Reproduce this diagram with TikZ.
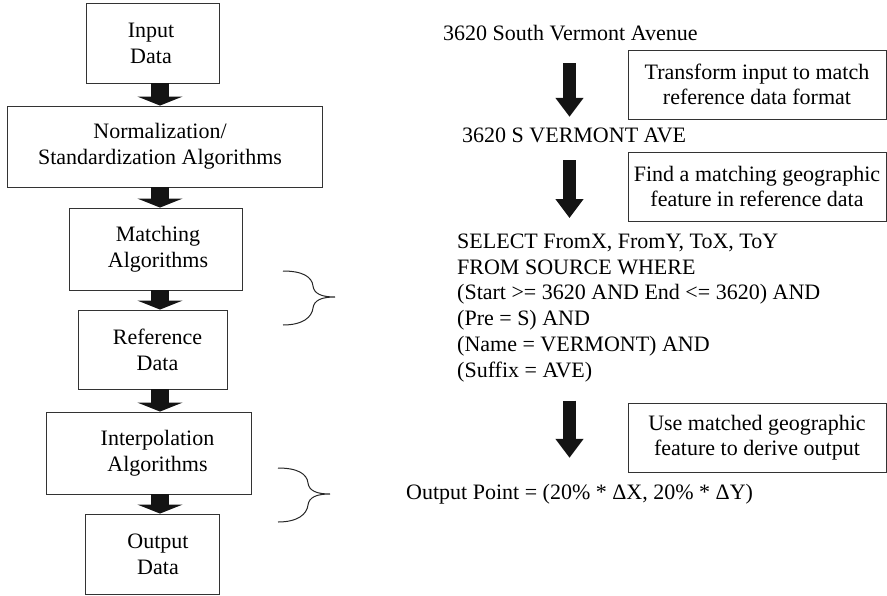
\documentclass[tikz,border=0pt]{standalone}
\usepackage{fontspec}
\setmainfont{Liberation Serif}
\usetikzlibrary{arrows.meta}
\begin{document}
\begin{tikzpicture}[x=1pt,y=-1pt,
  box/.style={draw=black!80, line width=0.9pt, inner sep=0pt},
  lbl/.style={font=\fontsize{22}{26}\selectfont, align=center, inner sep=0pt},
  rbox/.style={box, minimum width=258pt, minimum height=69pt, align=center, font=\fontsize{22}{24.5}\selectfont},
  txt/.style={font=\fontsize{22}{26}\selectfont, inner sep=0pt, text height=15pt, text depth=5pt},
  bigarrow/.style={line width=18pt, draw=black!92, -{Triangle[width=45pt,length=9pt]}},
  rarrow/.style={line width=13pt, draw=black!92, -{Triangle[width=27pt,length=19pt]}},
  brace/.style={line width=1pt, draw=black!85}]
\useasboundingbox (0,0) rectangle (887,595);

% left column boxes
\node[box, minimum width=133pt, minimum height=80pt] (in) at (152.5,43) {};
\node[box, minimum width=315pt, minimum height=81pt] (norm) at (164.5,146.5) {};
\node[box, minimum width=173pt, minimum height=82pt] (match) at (155.5,249) {};
\node[box, minimum width=149pt, minimum height=79pt] (ref) at (152.5,349.5) {};
\node[box, minimum width=205pt, minimum height=82pt] (interp) at (148.5,453) {};
\node[box, minimum width=134pt, minimum height=80pt] (out) at (152,554) {};

\node[lbl] (inT) at (151,43) {Input\\Data};
\node[lbl] (normT) at (160,146.5) {Normalization/\\Standardization Algorithms};
\node[lbl] (matchT) at (158,249) {Matching\\Algorithms};
\node[lbl] (refT) at (157.5,349.5) {Reference\\Data};
\node[lbl] (interpT) at (157.5,453) {Interpolation\\Algorithms};
\node[lbl] (outT) at (158,554) {Output\\Data};

\coordinate (ax) at (160,0);
\draw[bigarrow] (in.south -| ax) -- (norm.north -| ax);
\draw[bigarrow] (norm.south -| ax) -- (match.north -| ax);
\draw[bigarrow] (match.south -| ax) -- (ref.north -| ax);
\draw[bigarrow] (ref.south -| ax) -- (interp.north -| ax);
\draw[bigarrow] (interp.south -| ax) -- (out.north -| ax);

% braces
\draw[brace] (283,271) .. controls (303,271) and (312,277) .. (313,286)
  .. controls (314,294) and (322,297) .. (335,297)
  .. controls (322,297) and (314,300) .. (313,308)
  .. controls (312,317) and (303,325) .. (283,325);
\begin{scope}[shift={(-5,197)}]
\draw[brace] (283,271) .. controls (303,271) and (312,277) .. (313,286)
  .. controls (314,294) and (322,297) .. (335,297)
  .. controls (322,297) and (314,300) .. (313,308)
  .. controls (312,317) and (303,325) .. (283,325);
\end{scope}

% right column
\node[txt, anchor=base west] (a1) at (443,40) {3620 South Vermont Avenue};
\node[txt, anchor=base west] (a2) at (462,142) {3620 S VERMONT AVE};
\node[anchor=north west, inner sep=0pt, align=left, font=\fontsize{22}{25.8}\selectfont] (sel) at (457,233.5)
  {SELECT FromX, FromY, ToX, ToY\\FROM SOURCE WHERE\\(Start >= 3620 AND End <= 3620) AND\\(Pre = S) AND\\(Name = VERMONT) AND\\(Suffix = AVE)};
\node[txt, anchor=base west] (op) at (406,499) {Output Point = (20\% * ΔX, 20\% * ΔY)};

\node[rbox] (b1) at (757,84.5) {Transform input to match\\reference data format};
\node[rbox] (b2) at (757,186.5) {Find a matching geographic\\feature in reference data};
\node[rbox] (b3) at (757,437.5) {Use matched geographic\\feature to derive output};

\coordinate (rx) at (569.5,0);
\draw[rarrow, shorten <=18pt, shorten >=10pt] (a1.south -| rx) -- (a2.north -| rx);
\draw[rarrow, shorten <=13pt, shorten >=15.5pt] (a2.south -| rx) -- (sel.north -| rx);
\draw[rarrow, shorten <=18.5pt, shorten >=26pt] (sel.south -| rx) -- (op.north -| rx);
\end{tikzpicture}
\end{document}
